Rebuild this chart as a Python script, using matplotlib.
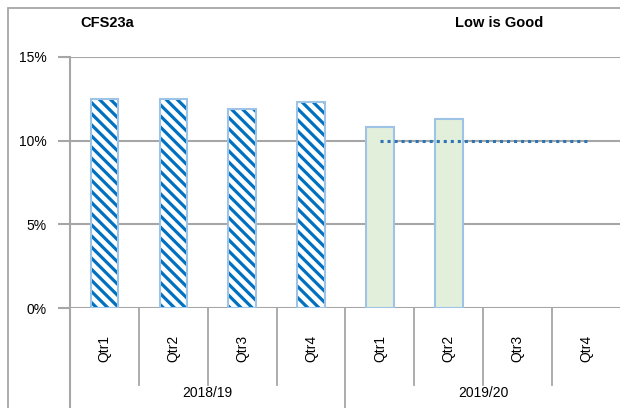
import matplotlib.pyplot as plt
import matplotlib.transforms as mtransforms
from matplotlib.lines import Line2D
from matplotlib.patches import Rectangle

plt.rcParams['font.family'] = ['Liberation Sans', 'DejaVu Sans']
plt.rcParams['hatch.linewidth'] = 2.3

# data
years = ['2018/19', '2019/20']
quarters = ['Qtr1', 'Qtr2', 'Qtr3', 'Qtr4']
values_1819 = [12.5, 12.5, 11.9, 12.3]
values_1920 = [10.8, 11.3]
target = 10.0
y_ticks = [0, 5, 10, 15]

fig = plt.figure(figsize=(6.2, 4.08), dpi=100)
ax = fig.add_axes([70 / 620, 1 - 308 / 408, 551 / 620, 251 / 408])

n = len(quarters)
x_prev = list(range(len(values_1819)))
x_curr = [n + i for i in range(len(values_1920))]

# hatched bars: stripes first, then the light outline on top
ax.bar(x_prev, values_1819, width=0.4, color='white', edgecolor='#0070C0',
       hatch='\\\\\\', linewidth=0, zorder=3)
ax.bar(x_prev, values_1819, width=0.4, color='none', edgecolor='#9DC3E6',
       linewidth=1.5, zorder=4)
ax.bar(x_curr, values_1920, width=0.4, color='#E2EFDA', edgecolor='#9DC3E6',
       linewidth=1.5, zorder=3)

# target line
ax.plot([n, 2 * n - 1], [target, target], color='#2E75B6', linestyle=(0, (1, 1.3)),
        linewidth=2.2, zorder=5)

ax.set_xlim(-0.5, 2 * n - 0.5)
ax.set_ylim(0, 15)
ax.set_yticks(y_ticks)
ax.set_yticklabels([f'{t}%' for t in y_ticks], fontsize=10)
ax.yaxis.grid(True, color='#A6A6A6', linewidth=1.5, zorder=0)
ax.tick_params(axis='y', length=9, width=1.5, color='#A6A6A6', pad=8)
ax.set_xticks([])
for s in ['top', 'right', 'bottom']:
    ax.spines[s].set_visible(False)
ax.spines['left'].set_color('#A6A6A6')
ax.spines['left'].set_linewidth(1.5)

# category axis below the plot
trans = mtransforms.blended_transform_factory(ax.transData, ax.transAxes)
for b in range(1, 2 * n):
    bottom = -0.41 if b == n else -0.305
    ax.add_line(Line2D([b - 0.5, b - 0.5], [0, bottom], transform=trans,
                       color='#A6A6A6', linewidth=1.3, clip_on=False))
ax.add_line(Line2D([-0.5, -0.5], [0, -0.41], transform=trans,
                   color='#A6A6A6', linewidth=1.5, clip_on=False))
for g, yr in enumerate(years):
    for i, q in enumerate(quarters):
        ax.text(g * n + i, -0.16, q, transform=trans, rotation=90,
                ha='center', va='center', fontsize=10)
    ax.text(g * n + (n - 1) / 2, -0.34, yr, transform=trans,
            ha='center', va='center', fontsize=10)

# outer chart border
fig.add_artist(Rectangle((8 / 620, -0.2), 2, 1.2 - 8 / 408, transform=fig.transFigure,
                         fill=False, edgecolor='#A6A6A6', linewidth=1.3))

fig.text(80 / 620, 1 - 23 / 408, 'CFS23a', fontsize=10.5, fontweight='bold',
         ha='left', va='center')
fig.text(499 / 620, 1 - 23 / 408, 'Low is Good', fontsize=10.5, fontweight='bold',
         ha='center', va='center')

fig.savefig('out.png', dpi=100)
